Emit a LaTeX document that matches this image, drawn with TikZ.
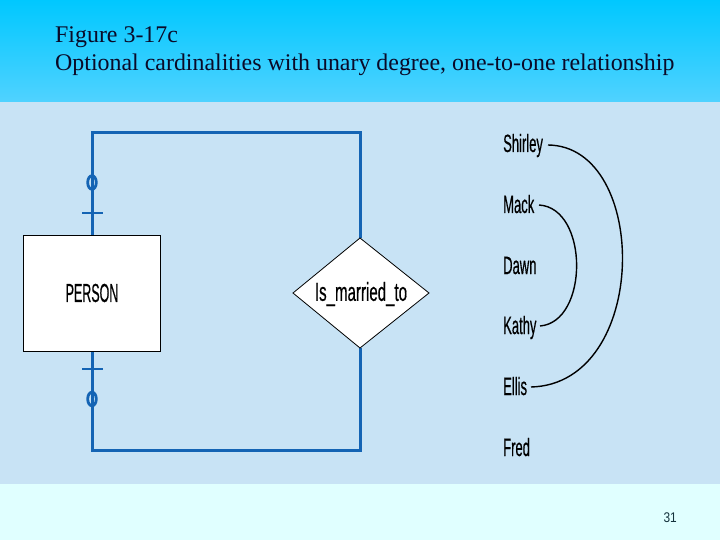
\documentclass[tikz,border=0pt]{standalone}
\usepackage{fontspec}
\setmainfont{Liberation Serif}
\newfontfamily\erfont[FakeBold=0.6]{Liberation Sans}
\newfontfamily\numfont{Liberation Sans}
\usepackage{graphicx}
\definecolor{topA}{RGB}{0,200,255}
\definecolor{topB}{RGB}{80,210,255}
\definecolor{midbg}{RGB}{200,227,245}
\definecolor{botbg}{RGB}{224,255,255}
\definecolor{relblue}{RGB}{20,100,180}
\definecolor{numcol}{RGB}{20,50,60}
\definecolor{titlecol}{RGB}{10,10,40}
\tikzset{
  rel/.style={draw=relblue, line width=3pt},
  cardmark/.style={draw=relblue, line width=2.8pt},
  ent/.style={draw=black, fill=white, line width=0.8pt, minimum width=137pt, minimum height=116pt, inner sep=0pt},
  relshape/.style={draw=black, fill=white, line width=0.8pt},
  erlabel/.style={font=\erfont\fontsize{26}{26}\selectfont, inner sep=0pt},
  inst/.style={font=\erfont\fontsize{25}{25}\selectfont, anchor=base west, inner sep=0pt},
  pair/.style={draw=black, line width=1.4pt},
  title/.style={anchor=base west, inner sep=0pt, text=titlecol, font=\fontsize{23.9}{24}\selectfont},
}
\begin{document}
\begin{tikzpicture}[x=1pt,y=-1pt]
\useasboundingbox (0,0) rectangle (720,540);
\shade[top color=topA, bottom color=topB] (0,0) rectangle (720,102);
\fill[midbg] (0,102) rectangle (720,484);
\fill[botbg] (0,484) rectangle (720,540);
\node[title] (t1) at (55,42.5) {Figure 3-17c};
\node[title] (t2) at (55,70.5) {Optional cardinalities with unary degree, one-to-one relationship};
% diamond corners
\coordinate (dN) at (360,238);
\coordinate (dS) at (360,348);
\coordinate (dW) at (293,293);
\coordinate (dE) at (429,293);
\coordinate (tl) at (92,133);
\coordinate (bl) at (92,450);
\node[ent] (pers) at (92,293) {};
% connectors
\draw[rel] (pers.north) -- (tl) -| (dN);
\draw[rel] (pers.south) -- (bl) -| (dS);
% entity and relationship
\node[ent, erlabel] at (pers) {\scalebox{0.48}[1]{PERSON}};
\filldraw[relshape] (dN) -- (dE) -- (dS) -- (dW) -- cycle;
\node[erlabel] (dia) at (361,294) {\scalebox{0.58}[1]{Is\_married\_to}};
% cardinality marks
\draw[cardmark] (92,182.5) ellipse [x radius=4.3, y radius=6.8];
\draw[cardmark] (82,213) -- (103,213);
\draw[cardmark] (82,369) -- (103,369);
\draw[cardmark] (92,399) ellipse [x radius=4.3, y radius=6.8];
% instances
\node[inst] (sh) at (503,152) {\scalebox{0.52}[1]{Shirley}};
\node[inst] (ma) at (503,213) {\scalebox{0.52}[1]{Mack}};
\node[inst] (da) at (503,274) {\scalebox{0.52}[1]{Dawn}};
\node[inst] (ka) at (503,334) {\scalebox{0.52}[1]{Kathy}};
\node[inst] (el) at (503,395) {\scalebox{0.52}[1]{Ellis}};
\node[inst] (fr) at (503,456) {\scalebox{0.52}[1]{Fred}};
\coordinate (shE) at (548,145);
\coordinate (elE) at (531,387);
\coordinate (maE) at (539,205);
\coordinate (kaE) at (540,326);
\draw[pair] (shE) .. controls (650,146) and (650,384) .. (elE);
\draw[pair] (maE) .. controls (589,208) and (589,322) .. (kaE);
\node[anchor=base east, inner sep=0pt, text=numcol, font=\numfont\fontsize{14}{14}\selectfont] (pg) at (677,522) {\scalebox{0.85}[1]{31}};
\end{tikzpicture}
\end{document}
